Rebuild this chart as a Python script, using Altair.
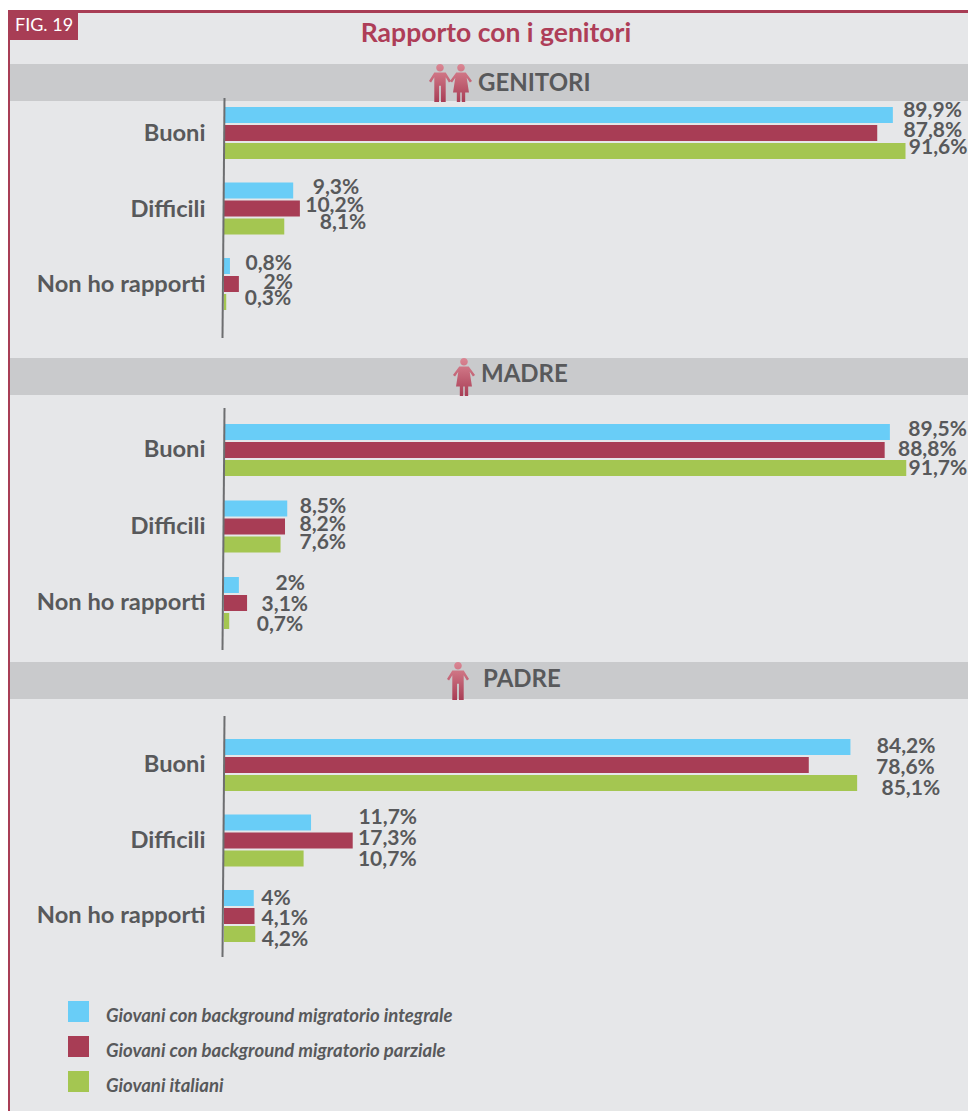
import altair as alt
import pandas as pd

FONT = "Lato"
BG = "#E6E7E9"
BAND = "#C9CACC"
INK = "#58595B"
MAROON = "#A83D55"
TITLE_RED = "#AE3E58"
COLORS = ["#69CDF7", "#A83D55", "#A4C651"]

categories = ["Buoni", "Difficili", "Non ho rapporti"]
series = [
    "Giovani con background migratorio integrale",
    "Giovani con background migratorio parziale",
    "Giovani italiani",
]

genitori_values = [89.9, 87.8, 91.6, 9.3, 10.2, 8.1, 0.8, 2.0, 0.3]
madre_values = [89.5, 88.8, 91.7, 8.5, 8.2, 7.6, 2.0, 3.1, 0.7]
padre_values = [84.2, 78.6, 85.1, 11.7, 17.3, 10.7, 4.0, 4.1, 4.2]

genitori_text = ["89,9%", "87,8%", "91,6%", "9,3%", "10,2%", "8,1%", "0,8%", "2%", "0,3%"]
madre_text = ["89,5%", "88,8%", "91,7%", "8,5%", "8,2%", "7,6%", "2%", "3,1%", "0,7%"]
padre_text = ["84,2%", "78,6%", "85,1%", "11,7%", "17,3%", "10,7%", "4%", "4,1%", "4,2%"]

# label placement relative to bar end / group centre (the source nudged each by hand)
genitori_dx = [69, 85, 62, 66, 64, 82, 62, 54, 65]
genitori_dy = [-23, -3, 14, -21.5, -3.5, 13.5, -21, -2, 14]
madre_dx = [77, 72, 61, 59, 61, 65.5, 66, 61, 74]
madre_dy = [-21, -1, 18, -20.5, -2.5, 15.5, -20, 1, 21]
padre_dx = [85, 126, 83, 106, 64, 113, 37, 53.5, 53]
padre_dy = [-19, 2, 23, -23.5, -2.5, 18.5, -18, 2, 23]

PLOT_W = 744
LEFT = 216
PX_PER_UNIT = 7.44
X_DOMAIN = [0, PLOT_W / PX_PER_UNIT]
ONE = pd.DataFrame({"k": [0]})

MAN = ("M0,-1A.2,.2 0 1 1 0,-.6A.2,.2 0 1 1 0,-1Z"
       "M-.3,-.55L.3,-.55L.58,-.1L.47,-.02L.3,-.3L.3,1L.05,1L.05,.15L-.05,.15L-.05,1L-.3,1"
       "L-.3,-.3L-.47,-.02L-.58,-.1Z")
WOMAN = ("M0,-1A.2,.2 0 1 1 0,-.6A.2,.2 0 1 1 0,-1Z"
         "M-.25,-.55L.25,-.55L.58,-.1L.47,-.02L.3,-.28L.42,.5L.22,.5L.22,1L.04,1L.04,.5"
         "L-.04,.5L-.04,1L-.22,1L-.22,.5L-.42,.5L-.3,-.28L-.47,-.02L-.58,-.1Z")
ICON_FILL = alt.Gradient(
    gradient="linear",
    stops=[alt.GradientStop(color="#DB8794", offset=0),
           alt.GradientStop(color="#A83D55", offset=1)],
    x1=0, x2=0, y1=0, y2=1,
)


def box(x0, x1, y0, y1, color):
    return alt.Chart(ONE).mark_rect(color=color, strokeWidth=0).encode(
        x=alt.value(x0), x2=alt.value(x1), y=alt.value(y0), y2=alt.value(y1))


def free_text(text, x, y, size, color, weight="bold", align="left"):
    return alt.Chart(ONE).mark_text(
        text=text, font=FONT, fontSize=size, fontWeight=weight, color=color,
        align=align, baseline="middle",
    ).encode(x=alt.value(x), y=alt.value(y))


def icon(path, x, y):
    return alt.Chart(ONE).mark_point(
        shape=path, size=1444, filled=True, fill=ICON_FILL, opacity=1, strokeWidth=0,
    ).encode(x=alt.value(x), y=alt.value(y))


def panel(values, texts, dxs, dys, title, title_x, title_y, icons, height, y_range, pad, axis_y,
          label_shift, legend):
    rows = []
    i = 0
    for c in categories:
        for s in series:
            rows.append({"cat": c, "ser": s, "v": values[i], "t": texts[i],
                         "lx": values[i] + dxs[i] / PX_PER_UNIT, "dy": dys[i] + 27})
            i += 1
    df = pd.DataFrame(rows)
    y = alt.Y("cat:N", sort=categories, title=None,
              scale=alt.Scale(domain=categories, range=y_range, paddingInner=pad, paddingOuter=0),
              axis=alt.Axis(domain=False, ticks=False, grid=False, labelFont=FONT, labelFontSize=23.7,
                            labelFontWeight="bold", labelColor=INK, labelPadding=19, labelLimit=300,
                            labelOffset=label_shift))
    x_scale = alt.Scale(domain=X_DOMAIN, nice=False, zero=False)
    bars = alt.Chart(df).mark_bar(cornerRadius=0).encode(
        x=alt.X("v:Q", title=None, axis=None, scale=x_scale), y=y,
        yOffset=alt.YOffset("ser:N", sort=series,
                            scale=alt.Scale(domain=series, paddingInner=0.111, paddingOuter=0)),
        fill=alt.Fill("ser:N", sort=series, scale=alt.Scale(domain=series, range=COLORS), legend=legend),
    )
    labels = alt.Chart(df).mark_text(
        font=FONT, fontSize=21, fontWeight="bold", color=INK, align="right", baseline="middle",
    ).encode(
        x=alt.X("lx:Q", title=None, axis=None, scale=x_scale), y=y,
        yOffset=alt.YOffset("dy:Q", scale=None),
        text="t:N",
    )
    axis_line = alt.Chart(ONE).mark_rule(color="#6D6E70", strokeWidth=2).encode(
        x=alt.value(0.5), x2=alt.value(-1.5), y=alt.value(axis_y[0]), y2=alt.value(axis_y[1]))
    layers = [
        box(-LEFT, PLOT_W, 0, 37, BAND),
        box(-LEFT, -LEFT + 2, 0, height, MAROON),
        bars, labels, axis_line,
        free_text(title, title_x, title_y, 24, INK),
    ] + [icon(p, ix, 19) for p, ix in icons]
    return alt.layer(*layers).properties(width=PLOT_W, height=height)


top = alt.layer(
    box(-LEFT, PLOT_W, 0, 2, "#FFFFFF"),
    box(-LEFT, PLOT_W, 2, 5, MAROON),
    box(-LEFT, -LEFT + 2, 2, 56, MAROON),
    box(-LEFT, -LEFT + 70, 2, 32, MAROON),
    free_text("FIG. 19", -LEFT + 7, 18, 18, "#FFFFFF", weight="normal"),
    free_text("Rapporto con i genitori", 272, 26, 26.5, TITLE_RED, align="center"),
).properties(width=PLOT_W, height=56)

p1 = panel(genitori_values, genitori_text, genitori_dx, genitori_dy, "GENITORI", 254, 19.5,
           [(MAN, 216), (WOMAN, 237)], 294, [43, 246], 0.311, (34, 274), 1, None)
p2 = panel(madre_values, madre_text, madre_dx, madre_dy, "MADRE", 257, 16.5,
           [(WOMAN, 240)], 304, [66, 271], 0.32, (50, 292), 0, None)

legend = alt.Legend(
    title=None, orient="none", legendX=-156, legendY=343, padding=0,
    symbolType="M-1,-1.38H1V.62H-1Z", symbolSize=441, symbolStrokeWidth=0, symbolOpacity=1,
    labelFont=FONT, labelFontSize=18.55, labelFontStyle="italic", labelFontWeight="bold",
    labelColor=INK, labelOffset=17, rowPadding=10, labelLimit=500,
)
p3 = panel(padre_values, padre_text, padre_dx, padre_dy, "PADRE", 259, 17.5,
           [(MAN, 234)], 449, [77, 280], 0.311, (54, 295), 0, legend)

chart = alt.vconcat(top, p1, p2, p3, spacing=0).resolve_scale(fill="independent").properties(
    background=BG, padding=0
).configure_view(stroke=None)

chart.save("out.html", embed_options={"renderer": "svg", "actions": False})
